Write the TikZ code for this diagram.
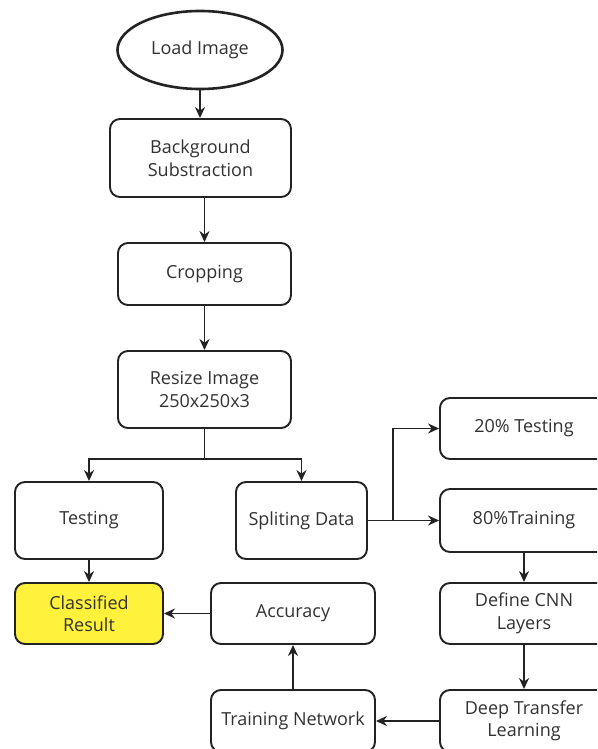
\documentclass[tikz,border=0pt]{standalone}
\usepackage{fontspec}
\setmainfont{Open Sans}
\usetikzlibrary{shapes.geometric,arrows.meta}
\definecolor{ln}{RGB}{35,35,35}
\definecolor{tx}{RGB}{50,50,50}
\definecolor{yel}{RGB}{255,241,60}
\tikzset{
  base/.style={draw=ln, line width=1.9pt, text=tx, inner sep=0pt, align=center,
    font=\fontsize{18}{22.5}\selectfont},
  stepbox/.style={base, rectangle, rounded corners=10pt},
  startnode/.style={base, ellipse, line width=2.6pt},
  conn/.style={draw=ln, line width=1.9pt, -{Stealth[length=11pt,width=10pt]}},
  plain/.style={draw=ln, line width=1.9pt}
}
\begin{document}
\begin{tikzpicture}[x=1pt,y=-1pt]
\clip (0,0) rectangle (597,749);
\fill[white] (0,0) rectangle (597,749);
\node[startnode, minimum width=165pt, minimum height=78pt] (load) at (200,50) {Load Image};
\node[stepbox, minimum width=181pt, minimum height=78pt] (bg) at (200.5,158) {Background\\Substraction};
\node[stepbox, minimum width=173pt, minimum height=62pt] (crop) at (204.5,274) {Cropping};
\node[stepbox, minimum width=173pt, minimum height=77pt] (resize) at (204.5,389.5) {Resize Image\\250x250x3};
\node[stepbox, minimum width=148pt, minimum height=77pt] (test) at (89,520.5) {Testing};
\node[stepbox, minimum width=131pt, minimum height=77pt] (split) at (301.5,520.5) {Spliting Data};
\node[stepbox, minimum width=168pt, minimum height=61pt] (t20) at (524,428.5) {20\% Testing};
\node[stepbox, minimum width=168pt, minimum height=63pt] (t80) at (524,520.5) {80\%Training};
\node[stepbox, minimum width=168pt, minimum height=61pt] (cnn) at (524,613.5) {Define CNN\\Layers};
\node[stepbox, minimum width=168pt, minimum height=62pt] (deep) at (524,721) {Deep Transfer\\Learning};
\node[stepbox, minimum width=164pt, minimum height=62pt] (trainnet) at (293,721) {Training Network};
\node[stepbox, minimum width=164pt, minimum height=61pt] (acc) at (293,613.5) {Accuracy};
\node[stepbox, fill=yel, minimum width=148pt, minimum height=61pt] (cls) at (89,613.5) {Classified\\Result};
\coordinate (j1) at (204.5,459);
\coordinate (j2) at (393,520.5);
\draw[conn] (load.south) -- (load.south |- bg.north);
\draw[conn] (bg.south -| crop.north) -- (crop.north);
\draw[conn] (crop.south) -- (resize.north);
\draw[plain] (resize.south) -- (j1);
\draw[conn] (j1) -| (test.north);
\draw[conn] (j1) -| (split.north);
\draw[conn] (split.east) -- (t80.west);
\draw[conn] (j2) |- (t20.west);
\draw[conn] (t80.south) -- (cnn.north);
\draw[conn] (cnn.south) -- (deep.north);
\draw[conn] (deep.west) -- (trainnet.east);
\draw[conn] (trainnet.north) -- (acc.south);
\draw[conn] (acc.west) -- (cls.east);
\draw[conn] (test.south) -- (cls.north);
\end{tikzpicture}
\end{document}
